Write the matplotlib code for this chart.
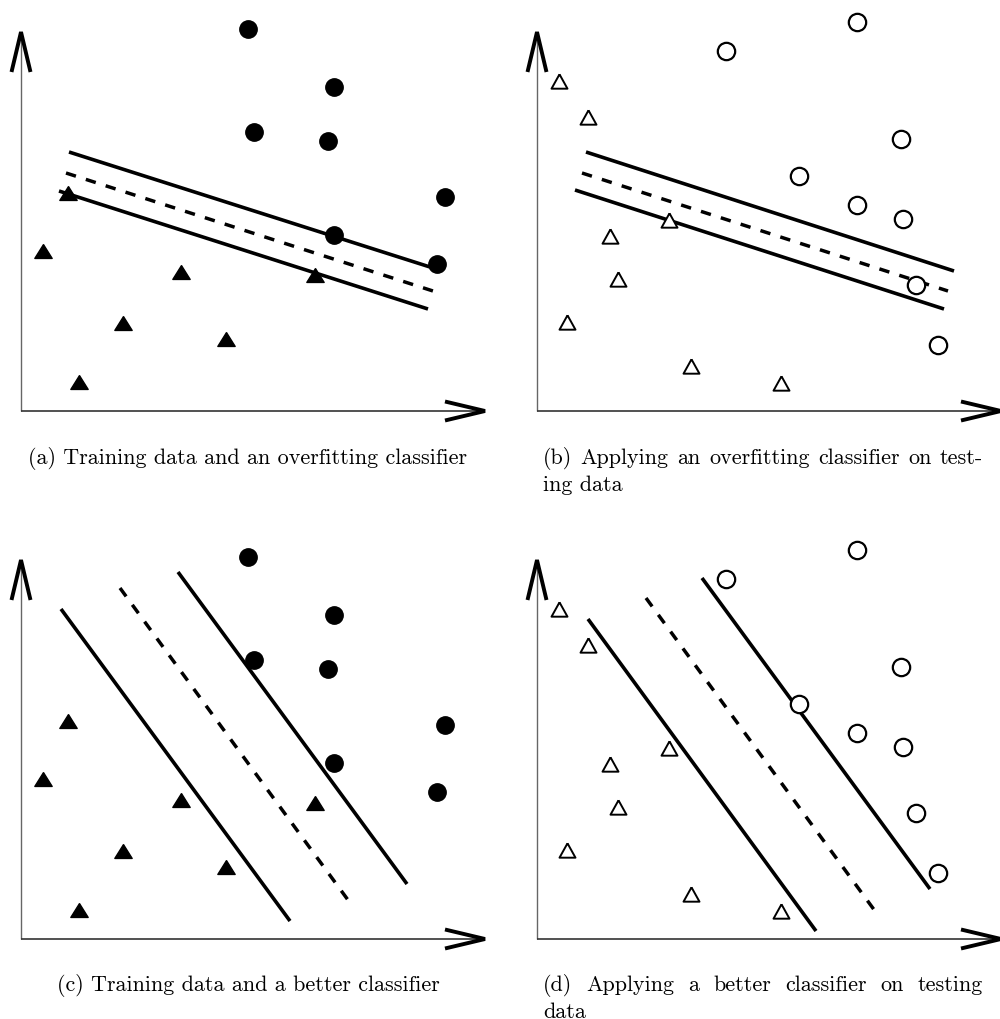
import matplotlib
matplotlib.use("Agg")
import matplotlib.pyplot as plt

plt.rcParams['axes.unicode_minus'] = False

W, H = 1000, 1020

# ---------------- data (pixel units measured from each panel's axis origin, y up)
train_circle_x = [227, 313, 233, 307, 424, 313, 416]
train_circle_y = [382, 324, 279, 270, 214, 176, 147]
train_tri_x = [47, 22, 160, 294, 102, 205, 58]
train_tri_y = [218, 160, 139, 136, 88, 72, 29]

test_circle_x = [320, 189, 364, 262, 320, 366, 379, 401]
test_circle_y = [389, 360, 272, 235, 206, 192, 126, 66]
test_tri_x = [22, 51, 132, 73, 81, 30, 154, 244]
test_tri_y = [330, 294, 191, 175, 132, 89, 45, 28]

# classifier boundaries: [x0, x1], [y0, y1]  (margin, decision, margin)
overfit_a_x = [[48, 409], [45, 412], [38, 407]]
overfit_a_y = [[259, 144], [238, 120], [220, 102]]
overfit_b_x = [[49, 417], [45, 411], [38, 407]]
overfit_b_y = [[259, 140], [238, 120], [221, 102]]
better_c_x = [[40, 269], [99, 327], [157, 386]]
better_c_y = [[330, 18], [351, 39], [367, 55]]
better_d_x = [[51, 279], [109, 338], [165, 393]]
better_d_y = [[320, 8], [341, 28], [361, 50]]
line_styles = ['solid', 'dashed', 'solid']

captions = {
    'a': "(a) Training data and an overfitting classifier",
    'b': ["(b) Applying an overfitting classifier on test-", "ing data"],
    'c': "(c) Training data and a better classifier",
    'd': ["(d) Applying a better classifier on testing", "data"],
}

# ---------------- layout
ORIGINS = {'a': (21, 412), 'b': (537, 412), 'c': (21, 940), 'd': (537, 940)}
Y_TIP = 379
X_TIP = 464
HEAD_L = 40
HEAD_W = 9.5
FONT = ['cmr10', 'DejaVu Serif']

fig = plt.figure(figsize=(W / 100, H / 100), dpi=100)


def make_panel(key):
    ox, oy = ORIGINS[key]
    left, right = ox - 25, ox + 470
    top, bottom = oy - 400, oy + 20
    ax = fig.add_axes([left / W, 1 - bottom / H, (right - left) / W, (bottom - top) / H])
    ax.set_xlim(-25, 470)
    ax.set_ylim(-20, 400)
    ax.axis('off')
    # axes with open arrowheads
    ax.plot([0, 0], [0, Y_TIP], color='#666666', lw=1.0, solid_capstyle='butt')
    ax.plot([0, X_TIP], [0, 0], color='#333333', lw=1.2, solid_capstyle='butt')
    ax.plot([-HEAD_W, 0, HEAD_W], [Y_TIP - HEAD_L, Y_TIP, Y_TIP - HEAD_L],
            color='black', lw=2.8, solid_joinstyle='miter', solid_capstyle='butt')
    ax.plot([X_TIP - HEAD_L, X_TIP, X_TIP - HEAD_L], [HEAD_W, 0, -HEAD_W],
            color='black', lw=2.8, solid_joinstyle='miter', solid_capstyle='butt')
    return ax


tri_marker = [(0, 0.8), (-1, -0.8), (1, -0.8), (0, 0.8)]


def draw_train(ax):
    ax.plot(train_circle_x, train_circle_y, 'o', color='black', ms=12.5, zorder=3)
    ax.plot(train_tri_x, train_tri_y, linestyle='none', marker=tri_marker,
            color='black', ms=12.5, zorder=3)


def draw_test(ax):
    ax.plot(test_circle_x, test_circle_y, 'o', mfc='white', mec='black',
            mew=1.6, ms=12.5, zorder=3)
    ax.plot(test_tri_x, test_tri_y, linestyle='none',
            marker=[(0, 0.9), (-1, -0.9), (1, -0.9), (0, 0.9)],
            mfc='white', mec='black', mew=1.4, ms=11.5, zorder=3)


def draw_lines(ax, xs, ys):
    for x, y, ls in zip(xs, ys, line_styles):
        if ls == 'dashed':
            ax.plot(x, y, color='black', lw=2.5, dashes=(3.0, 3.0), zorder=2)
        else:
            ax.plot(x, y, color='black', lw=2.6, solid_capstyle='butt', zorder=2)


axa = make_panel('a'); draw_lines(axa, overfit_a_x, overfit_a_y); draw_train(axa)
axb = make_panel('b'); draw_lines(axb, overfit_b_x, overfit_b_y); draw_test(axb)
axc = make_panel('c'); draw_lines(axc, better_c_x, better_c_y); draw_train(axc)
axd = make_panel('d'); draw_lines(axd, better_d_x, better_d_y); draw_test(axd)

# ---------------- captions
renderer = fig.canvas.get_renderer()

# fit font size so caption (a) spans its measured width
probe = fig.text(0, 0, captions['a'], family=FONT, fontsize=10)
w10 = probe.get_window_extent(renderer).width
probe.remove()
FS = 10 * 440 / w10


def fig_text(x_px, y_px, s, **kw):
    return fig.text(x_px / W, 1 - y_px / H, s, family=FONT, fontsize=FS,
                    va='baseline', **kw)


def justified(words, x0, x1, y):
    widths = []
    for wd in words:
        t = fig_text(0, 0, wd)
        widths.append(t.get_window_extent(renderer).width)
        t.remove()
    gap = (x1 - x0 - sum(widths)) / (len(words) - 1)
    x = x0
    for wd, w in zip(words, widths):
        fig_text(x, y, wd, ha='left')
        x += w + gap


fig_text(248, 464, captions['a'], ha='center')
fig_text(248, 991, captions['c'], ha='center')
justified(captions['b'][0].split(), 543, 983, 464)
fig_text(543, 491, captions['b'][1], ha='left')
justified(captions['d'][0].split(), 543, 983, 991)
fig_text(543, 1018, captions['d'][1], ha='left')

fig.savefig('out.png', dpi=100, facecolor='white')
